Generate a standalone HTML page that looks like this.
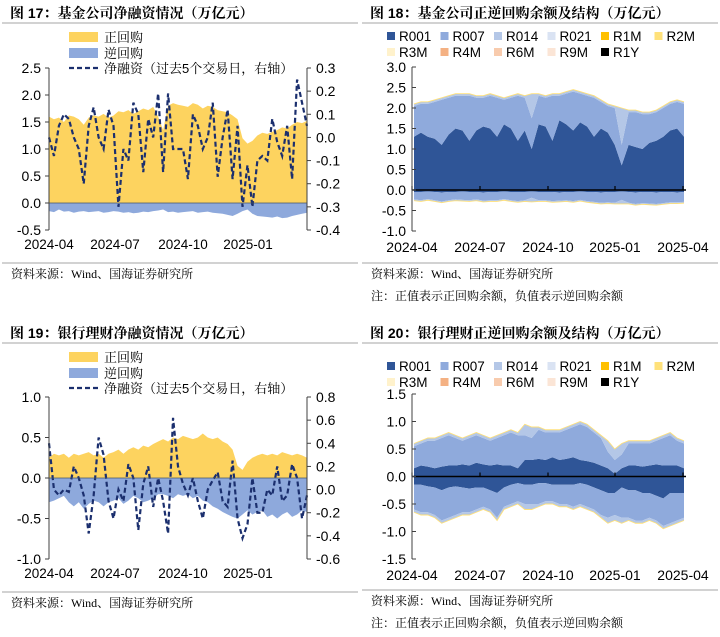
<!DOCTYPE html>
<html><head><meta charset="utf-8">
<style>
body{margin:0;background:#fff;width:720px;height:637px;overflow:hidden;font-family:"Liberation Sans","Noto Sans CJK SC",sans-serif;}
svg{position:absolute;left:0;top:0}
.t{font-family:"Liberation Sans","Noto Sans CJK SC",sans-serif;}
.c{font-family:"Liberation Serif","Noto Serif CJK SC",serif;}
.ct{font-family:"Liberation Sans","Noto Serif CJK SC",serif;}
</style></head>
<body>
<svg id="s" width="720" height="637" xmlns="http://www.w3.org/2000/svg"></svg>
<script>
// ---------- data ----------
const xTicks1=["2024-04","2024-07","2024-10","2025-01"];
const xTicks2=["2024-04","2024-07","2024-10","2025-01","2025-04"];
const legendStack=["R001","R007","R014","R021","R1M","R2M","R3M","R4M","R6M","R9M","R1Y"];
const legendColors=["#2f5597","#8faadc","#b4c7e7","#dae3f3","#ffc000","#ffe17a","#fff2cc","#f4b183","#f8cbad","#fbe5d6","#000000"];
const pos17=[1.60,1.55,1.58,1.50,1.62,1.60,1.55,1.45,1.58,1.62,1.60,1.65,1.58,1.62,1.70,1.68,1.72,1.65,1.70,1.75,1.72,1.78,1.60,1.35,1.80,1.85,1.82,1.80,1.78,1.85,1.82,1.75,1.80,1.78,1.72,1.70,1.68,1.62,1.55,1.20,1.10,1.15,1.25,1.30,1.28,1.32,1.35,1.40,1.38,1.45,1.50,1.48,1.52];
const neg17=[-0.15,-0.17,-0.12,-0.16,-0.15,-0.18,-0.16,-0.15,-0.17,-0.16,-0.15,-0.18,-0.17,-0.15,-0.16,-0.18,-0.17,-0.19,-0.18,-0.16,-0.17,-0.15,-0.14,-0.12,-0.17,-0.16,-0.18,-0.17,-0.16,-0.15,-0.18,-0.17,-0.16,-0.18,-0.19,-0.20,-0.22,-0.24,-0.20,-0.15,-0.12,-0.20,-0.24,-0.25,-0.26,-0.27,-0.25,-0.28,-0.27,-0.24,-0.22,-0.20,-0.18];
const net17=[0.0,-0.08,0.05,0.1,0.08,0.0,-0.05,-0.2,0.05,0.13,0.0,-0.05,0.12,0.05,-0.3,-0.05,-0.1,0.15,0.1,-0.15,0.08,0.0,0.19,-0.15,0.19,-0.05,-0.05,-0.05,-0.18,0.10,0.05,-0.05,0.0,0.15,-0.17,0.0,0.12,-0.18,0.05,-0.30,-0.12,-0.30,-0.10,-0.08,-0.10,0.08,-0.02,-0.08,0.05,-0.18,0.25,0.15,0.05];
const pos19=[0.25,0.3,0.28,0.3,0.25,0.3,0.28,0.3,0.32,0.28,0.3,0.25,0.3,0.32,0.35,0.3,0.35,0.38,0.35,0.4,0.38,0.42,0.45,0.48,0.45,0.5,0.48,0.52,0.5,0.48,0.5,0.55,0.5,0.48,0.5,0.45,0.42,0.35,0.15,0.1,0.2,0.25,0.28,0.3,0.28,0.3,0.28,0.32,0.3,0.28,0.3,0.28,0.25];
const neg19=[-0.3,-0.28,-0.25,-0.22,-0.3,-0.35,-0.3,-0.38,-0.32,-0.28,-0.3,-0.35,-0.3,-0.28,-0.25,-0.32,-0.28,-0.22,-0.25,-0.3,-0.28,-0.25,-0.2,-0.2,-0.22,-0.25,-0.2,-0.22,-0.2,-0.25,-0.22,-0.28,-0.3,-0.35,-0.38,-0.42,-0.45,-0.48,-0.5,-0.45,-0.4,-0.45,-0.42,-0.4,-0.48,-0.45,-0.5,-0.45,-0.42,-0.48,-0.45,-0.4,-0.42];
const net19=[0.4,0.0,-0.05,0.0,-0.02,0.2,0.1,-0.05,-0.38,-0.05,0.45,0.3,-0.1,-0.25,0.0,-0.1,0.22,0.1,-0.35,0.05,0.2,-0.15,0.1,-0.1,-0.38,0.62,0.2,0.05,-0.05,0.1,-0.1,-0.25,0.0,0.08,0.15,-0.1,-0.15,0.25,-0.25,-0.42,-0.3,0.1,-0.2,-0.2,0.0,-0.05,0.2,-0.1,-0.05,0.22,0.1,-0.25,-0.05];
const r001pos18=[1.3,1.4,1.3,1.25,1.1,1.35,1.5,1.45,1.2,1.45,1.55,1.5,1.3,1.6,1.5,1.2,1.45,1.0,1.6,1.55,1.2,1.7,1.6,1.45,1.65,1.55,1.3,1.5,1.4,1.1,0.6,1.1,1.05,1.0,1.15,1.2,1.3,1.45,1.5,1.3];
const r007pos18=[0.75,0.70,0.80,0.90,1.10,0.90,0.80,0.85,1.10,0.80,0.70,0.80,0.95,0.60,0.75,1.10,0.80,0.75,0.70,0.70,1.10,0.60,0.75,0.95,0.70,0.75,0.95,0.65,0.65,0.90,0.50,0.80,0.85,0.85,0.70,0.70,0.70,0.65,0.65,0.80];
const r014pos18=[0.05,0.05,0.05,0.05,0.05,0.05,0.05,0.05,0.05,0.05,0.05,0.05,0.05,0.05,0.05,0.05,0.05,0.6,0.05,0.05,0.05,0.05,0.05,0.05,0.05,0.05,0.05,0.05,0.05,0.05,0.9,0.05,0.05,0.05,0.05,0.05,0.05,0.05,0.05,0.05];
const r001neg18=[-0.05,-0.05,-0.04,-0.05,-0.06,-0.05,-0.05,-0.04,-0.05,-0.05,-0.06,-0.05,-0.05,-0.04,-0.05,-0.05,-0.05,-0.04,-0.05,-0.05,-0.05,-0.06,-0.05,-0.05,-0.04,-0.05,-0.05,-0.06,-0.05,-0.05,-0.04,-0.05,-0.06,-0.05,-0.05,-0.06,-0.05,-0.05,-0.06,-0.05];
const r007neg18=[-0.18,-0.2,-0.18,-0.2,-0.22,-0.2,-0.18,-0.2,-0.2,-0.18,-0.2,-0.2,-0.2,-0.18,-0.2,-0.22,-0.2,-0.15,-0.2,-0.2,-0.22,-0.2,-0.2,-0.22,-0.2,-0.22,-0.24,-0.25,-0.25,-0.26,-0.2,-0.26,-0.28,-0.27,-0.28,-0.28,-0.27,-0.25,-0.24,-0.24];
const r014neg18=[-0.03,-0.03,-0.03,-0.03,-0.03,-0.03,-0.03,-0.03,-0.03,-0.03,-0.03,-0.03,-0.03,-0.03,-0.03,-0.03,-0.03,-0.1,-0.03,-0.03,-0.03,-0.03,-0.03,-0.03,-0.03,-0.03,-0.03,-0.03,-0.03,-0.03,-0.1,-0.03,-0.03,-0.03,-0.03,-0.03,-0.03,-0.03,-0.03,-0.03];
const r001pos20=[0.15,0.2,0.18,0.15,0.18,0.2,0.2,0.22,0.2,0.25,0.22,0.2,0.22,0.2,0.2,0.15,0.3,0.3,0.32,0.3,0.35,0.3,0.32,0.35,0.3,0.28,0.25,0.2,0.15,0.05,0.15,0.2,0.2,0.18,0.2,0.22,0.2,0.2,0.2,0.15];
const r007pos20=[0.40,0.40,0.47,0.50,0.52,0.55,0.50,0.43,0.50,0.50,0.48,0.45,0.48,0.55,0.60,0.60,0.45,0.40,0.53,0.50,0.45,0.50,0.53,0.55,0.65,0.62,0.55,0.50,0.30,0.25,0.25,0.40,0.40,0.42,0.40,0.43,0.50,0.55,0.45,0.45];
const r014pos20=[0.05,0.05,0.05,0.05,0.05,0.05,0.05,0.05,0.05,0.05,0.05,0.05,0.05,0.05,0.05,0.05,0.2,0.2,0.05,0.05,0.05,0.05,0.05,0.05,0.05,0.05,0.05,0.05,0.2,0.2,0.2,0.05,0.05,0.05,0.05,0.05,0.05,0.05,0.05,0.05];
const r001neg20=[-0.15,-0.15,-0.18,-0.2,-0.25,-0.2,-0.18,-0.2,-0.22,-0.2,-0.2,-0.25,-0.3,-0.2,-0.15,-0.12,-0.15,-0.15,-0.12,-0.12,-0.15,-0.15,-0.15,-0.15,-0.12,-0.15,-0.2,-0.25,-0.3,-0.3,-0.2,-0.25,-0.25,-0.3,-0.3,-0.35,-0.4,-0.3,-0.3,-0.3];
const r007neg20=[-0.45,-0.5,-0.47,-0.5,-0.55,-0.55,-0.52,-0.45,-0.43,-0.4,-0.35,-0.35,-0.45,-0.35,-0.35,-0.33,-0.35,-0.35,-0.38,-0.33,-0.3,-0.35,-0.35,-0.4,-0.38,-0.4,-0.4,-0.45,-0.45,-0.4,-0.55,-0.5,-0.55,-0.5,-0.45,-0.45,-0.5,-0.55,-0.5,-0.45];
const r014neg20=[-0.05,-0.05,-0.05,-0.05,-0.05,-0.05,-0.05,-0.05,-0.05,-0.05,-0.05,-0.05,-0.05,-0.05,-0.05,-0.05,-0.1,-0.1,-0.05,-0.05,-0.05,-0.05,-0.05,-0.05,-0.05,-0.05,-0.05,-0.05,-0.1,-0.1,-0.1,-0.05,-0.05,-0.05,-0.05,-0.05,-0.05,-0.05,-0.05,-0.05];
const yTicks17=[2.5,2.0,1.5,1.0,0.5,0.0,-0.5];
const yTicks17r=[0.3,0.2,0.1,0.0,-0.1,-0.2,-0.3,-0.4];
const yTicks19=[1.0,0.5,0.0,-0.5,-1.0];
const yTicks19r=[0.8,0.6,0.4,0.2,0.0,-0.2,-0.4,-0.6];
const yTicks18=[3.0,2.5,2.0,1.5,1.0,0.5,0.0,-0.5,-1.0];
const yTicks20=[1.5,1.0,0.5,0.0,-0.5,-1.0,-1.5];

// ---------- helpers ----------
const S=document.getElementById('s');
const NS="http://www.w3.org/2000/svg";
function mk(tag,attrs,parent){const e=document.createElementNS(NS,tag);for(const k in attrs)e.setAttribute(k,attrs[k]);(parent||S).appendChild(e);return e;}
function txt(x,y,s,size,anchor,weight,parent,cls){const e=mk('text',{x:x,y:y,'font-size':size,'text-anchor':anchor||'start','font-weight':weight||'normal',fill:'#000','class':cls||'t'},parent);e.textContent=s;return e;}
function lin(d0,d1,r0,r1){return v=>r0+(v-d0)/(d1-d0)*(r1-r0);}
function areaPath(xs,top,bot){let d='M'+xs(0)+','+top[0];for(let i=1;i<top.length;i++)d+='L'+xs(i)+','+top[i];for(let i=bot.length-1;i>=0;i--)d+='L'+xs(i)+','+bot[i];return d+'Z';}
function frame(ox,oy,title){
  const g=mk('g',{});
  
  
  txt(ox+10,oy+18,title,14,'start','bold',g,'ct');
  const l1=mk('line',{x1:ox+2,x2:ox+358,y1:oy+23,y2:oy+23,stroke:'#a6a6a6','stroke-width':1});
  
  
}
function footer(ox,y,note){
  const l=mk('line',{x1:ox+2,x2:ox+358,y1:y,y2:y,stroke:'#a6a6a6','stroke-width':1});
  
  
  const t=txt(ox+11,y+15,'资料来源：Wind、国海证券研究所',12,'start','normal',null,'c');
  
  
  if(note){const n=txt(ox+11,y+37,'注：正值表示正回购余额，负值表示逆回购余额',12,'start','normal',null,'c');
    
    }
}

// ---------- net financing charts ----------
function netChart(oy,title,pos,neg,net,yT,yTr,ymin,ymax,rmin,rmax,top,bot){
  frame(0,oy,title);
  const N=pos.length,x0=49,x1=307;
  const xs=lin(0,N-1,x0,x1), y=lin(ymin,ymax,bot,top), yr=lin(rmin,rmax,bot,top);
  const zero=y(0);
  const pa=mk('path',{d:areaPath(xs,pos.map(y),pos.map(()=>zero)),fill:'#fdd35f'});
  
  
  const na=mk('path',{d:areaPath(xs,neg.map(y),neg.map(()=>zero)),fill:'#8ea9dc'});
  
  
  let d='';net.forEach((v,i)=>{d+=(i?'L':'M')+xs(i)+','+yr(v);});
  const nl=mk('path',{d:d,fill:'none',stroke:'#1b2f6e','stroke-width':2.2,'stroke-dasharray':'5,3'});
  
  
  const zl=mk('line',{x1:x0,x2:x1,y1:zero,y2:zero,stroke:'#44546a','stroke-width':0.8});
  
  
  const la=mk('line',{x1:x0,x2:x0,y1:top,y2:bot,stroke:'#404040','stroke-width':1});
  
  
  yT.forEach(v=>{mk('line',{x1:x0-4,x2:x0,y1:y(v),y2:y(v),stroke:'#404040'});
    const t=txt(x0-8,y(v)+5,v.toFixed(1),14,'end');
    
    });
  const ra=mk('line',{x1:x1,x2:x1,y1:top,y2:bot,stroke:'#404040','stroke-width':1});
  
  
  yTr.forEach(v=>{mk('line',{x1:x1,x2:x1+4,y1:yr(v),y2:yr(v),stroke:'#404040'});
    const t=txt(x1+9,yr(v)+5,v.toFixed(1),14,'start');
    
    });
  const xl=[49,115,183,248];
  xTicks1.forEach((s,i)=>{const t=txt(xl[i],bot+19,s,13.5,'middle');
    
    });
  // legend
  const ly=oy+32;
  const a=mk('rect',{x:69,y:ly,width:29,height:10,fill:'#fdd35f'});
  
  
  txt(104,ly+10,'正回购',13,'start','normal',null,'c');
  const b=mk('rect',{x:69,y:ly+16,width:29,height:10,fill:'#8ea9dc'});
  
  
  txt(104,ly+26,'逆回购',13,'start','normal',null,'c');
  const c=mk('line',{x1:69,x2:98,y1:ly+36,y2:ly+36,stroke:'#1b2f6e','stroke-width':2.2,'stroke-dasharray':'5,3'});
  
  
  txt(104,ly+41,'净融资（过去5个交易日，右轴）',13,'start','normal',null,'ct');
}

// ---------- stacked structure charts ----------
function stackChart(oy,title,posS,negS,yT,ymin,ymax,top,bot,legY){
  const ox=360;
  frame(ox,oy,title);
  const N=posS[0].length,x0=412,x1=686;
  const xs=lin(0,N-1,x0+2,x1-2), y=lin(ymin,ymax,bot,top);
  const cols=["#2f5597","#8faadc","#b4c7e7"];
  [posS,negS].forEach((ser,k)=>{
    let cum=new Array(N).fill(0);
    ser.forEach((arr,j)=>{
      const nc=cum.map((c,i)=>c+arr[i]);
      const p=mk('path',{d:areaPath(xs,nc.map(y),cum.map(y)),fill:cols[j]});
      
      
      cum=nc;});
    let d='';cum.forEach((v,i)=>{d+=(i?'L':'M')+xs(i)+','+y(v);});
    const e=mk('path',{d:d,fill:'none',stroke:'#ffe17a','stroke-width':0.9});
    
    
  });
  const zl=mk('line',{x1:x0,x2:x1,y1:y(0),y2:y(0),stroke:'#000','stroke-width':1.6});
  
  
  const xl=[412,480,548,615,683];
  xl.forEach(v=>mk('line',{x1:v,x2:v,y1:y(0)-4,y2:y(0),stroke:'#000','stroke-width':1.2}));
  const la=mk('line',{x1:x0,x2:x0,y1:top,y2:bot,stroke:'#404040'});
  
  
  yT.forEach(v=>{mk('line',{x1:x0,x2:x0+4,y1:y(v),y2:y(v),stroke:'#404040'});
    const t=txt(x0-6,y(v)+5,v.toFixed(1),14,'end');
    
    });
  xTicks2.forEach((s,i)=>{const t=txt(xl[i],bot+21,s,14,'middle');
    
    });
  legendStack.forEach((s,i)=>{
    const r=Math.floor(i/6),c=i%6;
    const lx=ox+27+c*53.5, ly=legY+r*16;
    const sq=mk('rect',{x:lx,y:ly-5,width:8,height:8,fill:legendColors[i]});
    
    
    const t=txt(lx+12,ly+4,s,13.5);
    
    
  });
}

netChart(0,'图 17：基金公司净融资情况（万亿元）',pos17,neg17,net17,yTicks17,yTicks17r,-0.5,2.5,-0.4,0.3,68,230);
footer(0,263,false);
stackChart(0,'图 18：基金公司正逆回购余额及结构（万亿元）',[r001pos18,r007pos18,r014pos18],[r001neg18,r007neg18,r014neg18],yTicks18,-1.0,3.0,67,231,37);
footer(360,263,true);
netChart(320,'图 19：银行理财净融资情况（万亿元）',pos19,neg19,net19,yTicks19,yTicks19r,-1.0,1.0,-0.6,0.8,397,559);
footer(0,592,false);
stackChart(320,'图 20：银行理财正逆回购余额及结构（万亿元）',[r001pos20,r007pos20,r014pos20],[r001neg20,r007neg20,r014neg20],yTicks20,-1.5,1.5,394,559,367);
footer(360,590,true);
</script>
</body></html>
